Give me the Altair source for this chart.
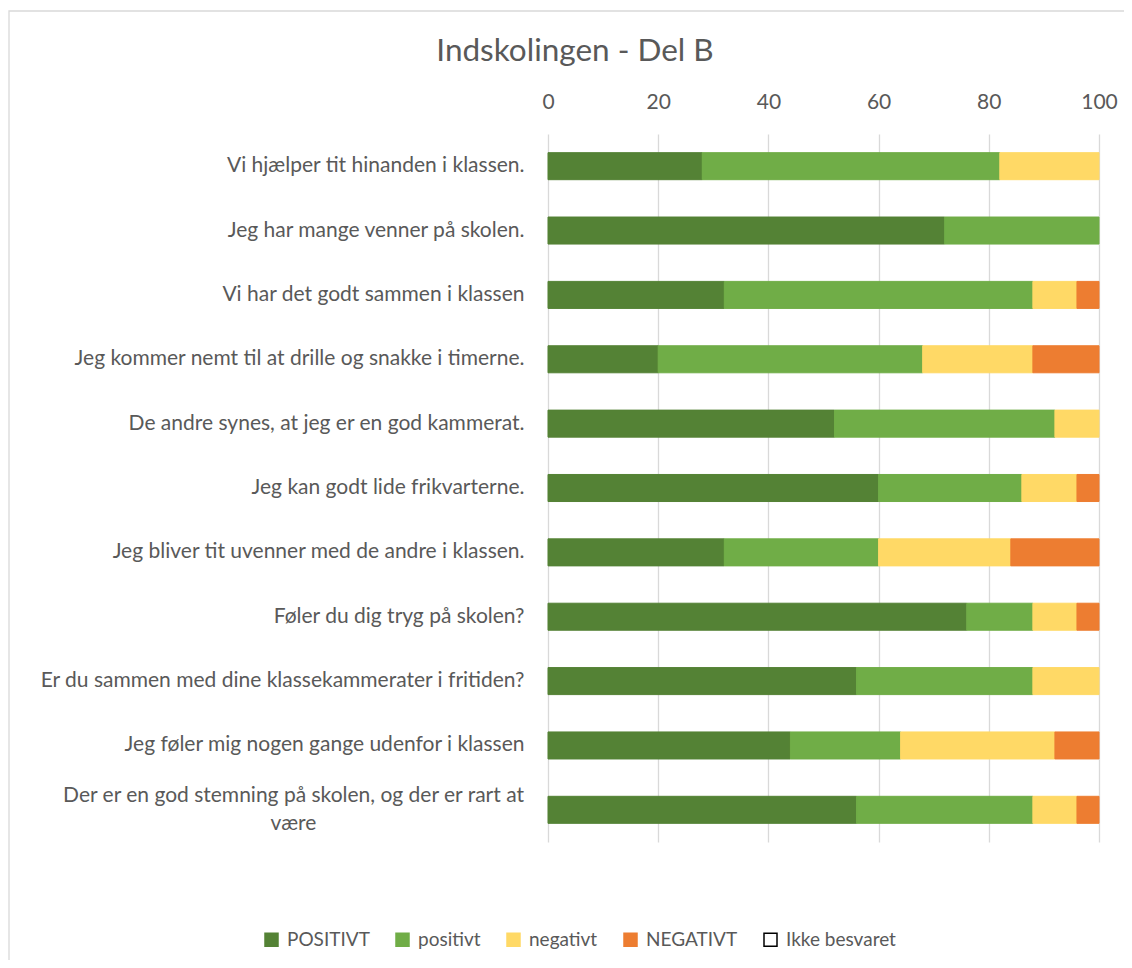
import altair as alt
import pandas as pd

categories = [
    "Vi hjælper tit hinanden i klassen.",
    "Jeg har mange venner på skolen.",
    "Vi har det godt sammen i klassen",
    "Jeg kommer nemt til at drille og snakke i timerne.",
    "De andre synes, at jeg er en god kammerat.",
    "Jeg kan godt lide frikvarterne.",
    "Jeg bliver tit uvenner med de andre i klassen.",
    "Føler du dig tryg på skolen?",
    "Er du sammen med dine klassekammerater i fritiden?",
    "Jeg føler mig nogen gange udenfor i klassen",
    "Der er en god stemning på skolen, og der er rart at være",
]
series = ["POSITIVT", "positivt", "negativt", "NEGATIVT", "Ikke besvaret"]
fill_colors = ["#548235", "#70AD47", "#FFD966", "#ED7D31", "#FFFFFF"]
stroke_colors = ["#548235", "#70AD47", "#FFD966", "#ED7D31", "#000000"]

POSITIVT = [28, 72, 32, 20, 52, 60, 32, 76, 56, 44, 56]
positivt = [54, 28, 56, 48, 40, 26, 28, 12, 32, 20, 32]
negativt = [18, 0, 8, 20, 8, 10, 24, 8, 12, 28, 8]
NEGATIVT = [0, 0, 4, 12, 0, 4, 16, 4, 0, 8, 4]
ikke_besvaret = [0, 0, 0, 0, 0, 0, 0, 0, 0, 0, 0]

title_text = "Indskolingen - Del B"
tick_values = [0, 20, 40, 60, 80, 100]

values = [POSITIVT, positivt, negativt, NEGATIVT, ikke_besvaret]
rows = []
for si, (s, vals) in enumerate(zip(series, values)):
    for c, v in zip(categories, vals):
        if v > 0:
            rows.append({"category": c, "series": s, "value": v, "order": si})
df = pd.DataFrame(rows)

FONT = "Lato"
TXT = "#595959"
LBL = 21
LEG = 19
PAD = 24

long_label = categories[-1]
line1 = "Der er en god stemning på skolen, og der er rart at"
line2 = "være"
label_expr = "datum.value === '" + long_label + "' ? '' : datum.label"

y_enc = alt.Y(
    "category:N",
    sort=categories,
    scale=alt.Scale(paddingInner=0.58, paddingOuter=0.29),
    axis=alt.Axis(
        title=None,
        ticks=False,
        domain=False,
        labelPadding=PAD,
        labelLimit=0,
        labelFontSize=LBL,
        labelColor=TXT,
        labelFont=FONT,
        labelExpr=label_expr,
    ),
)

legend = alt.Legend(
    orient="none",
    legendX=-286,
    legendY=796,
    direction="horizontal",
    title=None,
    symbolType="square",
    symbolSize=169,
    symbolStrokeWidth=1.5,
    labelFontSize=LEG,
    labelColor=TXT,
    labelFont=FONT,
    columnPadding=23,
    labelOffset=6,
)

bars = alt.Chart(df).mark_bar().encode(
    x=alt.X(
        "value:Q",
        stack="zero",
        scale=alt.Scale(domain=[0, 100], nice=False),
        axis=alt.Axis(
            orient="top",
            values=tick_values,
            title=None,
            grid=True,
            gridColor="#D9D9D9",
            gridWidth=1.3,
            domain=False,
            ticks=False,
            labelFontSize=LBL,
            labelColor=TXT,
            labelFont=FONT,
            labelPadding=22,
            labelFlush=False,
        ),
    ),
    y=y_enc,
    color=alt.Color("series:N", scale=alt.Scale(domain=series, range=fill_colors), legend=legend),
    stroke=alt.Stroke("series:N", scale=alt.Scale(domain=series, range=stroke_colors), legend=legend),
    order=alt.Order("order:Q"),
)

long_df = pd.DataFrame({"category": [long_label]})

# wrapped last label: first line right-aligned like the others, second line centred under it
wrap1 = alt.Chart(long_df).mark_text(
    text=line1, align="right", baseline="middle", dy=-14,
    fontSize=LBL, font=FONT, color=TXT,
).encode(y=alt.Y("category:N", sort=categories), x=alt.value(-PAD))

wrap2 = alt.Chart(long_df).mark_text(
    text=line2, align="center", baseline="middle", dy=14,
    fontSize=LBL, font=FONT, color=TXT,
).encode(y=alt.Y("category:N", sort=categories), x=alt.value(-PAD - 230.5))

title = alt.Chart(pd.DataFrame({"t": [title_text]})).mark_text(
    align="center", baseline="middle", fontSize=31.5, font=FONT, color=TXT,
).encode(text="t:N", x=alt.value(27), y=alt.value(-82))

frame = alt.Chart(pd.DataFrame({"f": [0]})).mark_rect(
    fillOpacity=0, stroke="#D9D9D9", strokeWidth=1.3
).encode(
    x=alt.value(-539), x2=alt.value(620), y=alt.value(-123), y2=alt.value(1000)
)

chart = alt.layer(frame, bars, wrap1, wrap2, title).properties(
    width=551,
    height=708,
    padding={"left": 540, "top": 126, "right": 25, "bottom": 118},
    autosize=alt.AutoSizeParams(type="none"),
).configure_view(stroke=None)

chart.save("out.html", embed_options={"renderer": "svg", "actions": False})
